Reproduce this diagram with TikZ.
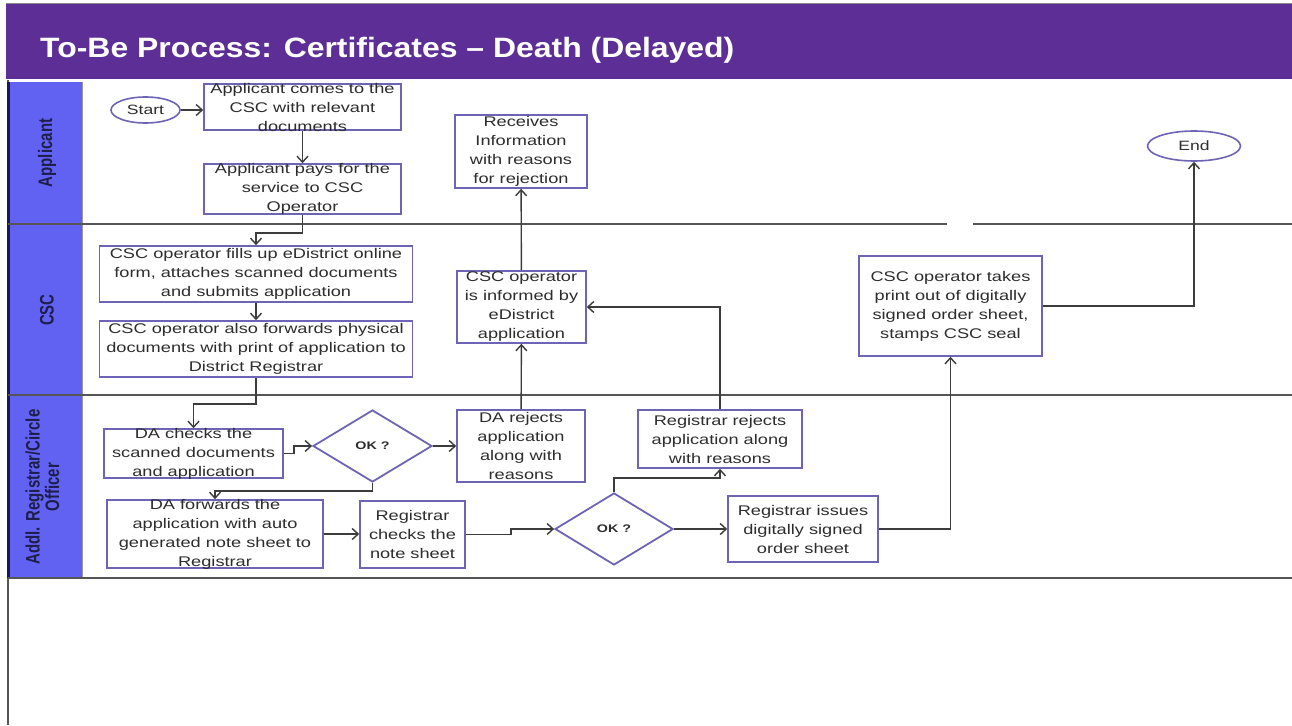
\documentclass[tikz,border=0pt]{standalone}
\usepackage{fontspec}
\setmainfont{Liberation Sans}[FakeStretch=1.3]
\newfontfamily\lanefont{Liberation Sans}
\newfontfamily\titlefont{Liberation Sans}[FakeStretch=1.14]
\usetikzlibrary{shapes.geometric,arrows.meta,calc}

\definecolor{headpurple}{RGB}{92,46,150}
\definecolor{laneblue}{RGB}{98,98,242}
\definecolor{lanenavy}{RGB}{25,25,90}
\definecolor{lanetext}{RGB}{30,30,75}
\definecolor{boxline}{RGB}{110,100,182}
\definecolor{flowline}{RGB}{60,60,60}
\definecolor{sepline}{RGB}{85,85,85}
\definecolor{bodytext}{RGB}{45,45,45}

\tikzset{
  box/.style={draw=boxline, line width=1.6pt, fill=white, inner sep=0pt},
  boxtext/.style={font=\fontsize{14}{19}\selectfont, text=bodytext, align=center, inner sep=0pt},
  decision/.style={diamond, draw=boxline, line width=1.8pt, fill=white, inner sep=0pt,
    font=\fontsize{11}{13}\selectfont\bfseries, text=bodytext},
  terminal/.style={ellipse, draw=boxline, line width=1.6pt, fill=white, inner sep=0pt,
    font=\fontsize{13.5}{16}\selectfont, text=bodytext},
  flow/.style={draw=flowline, line width=1.4pt, -{Straight Barb[length=6pt,width=11pt]}},
  lanesep/.style={draw=sepline, line width=1.8pt},
  lanelabel/.style={rotate=90, text=lanetext, align=center, inner sep=0pt,
    font=\lanefont\fontsize{15}{14}\selectfont\bfseries}
}

\begin{document}
\begin{tikzpicture}[x=1pt,y=-1pt]
\useasboundingbox (0,0) rectangle (1292,725);
\fill[white] (0,0) rectangle (1292,725);

% title band
\fill[headpurple] (6,4) rectangle (1292,79);
\draw[sepline!70, line width=1pt] (6,4) -- (1292,4);
\node[anchor=base west, text=white, inner sep=0pt,
      font=\titlefont\fontsize{28}{32}\selectfont\bfseries] (title) at (40,57)
  {To-Be Process: Certificates – Death (Delayed)};

% lane header column and frame
\draw[sepline, line width=1.5pt] (8,80) -- (8,725);
\fill[laneblue] (8,82) rectangle (82,578);
\draw[lanenavy, line width=2.5pt] (8.5,82) -- (8.5,578);
\draw[sepline!60, line width=0.8pt] (82,82) -- (82,578);

% lane separators
\draw[lanesep] (8,224) -- (947,224);
\draw[lanesep] (973,224) -- (1292,224);
\draw[lanesep] (8,395) -- (1292,395);
\draw[lanesep] (8,578) -- (1292,578);

% lane names
\node[lanelabel] (laneA) at (47,153) {\scalebox{1}[1.3]{Applicant}};
\node[lanelabel] (laneC) at (47,310) {\scalebox{1}[1.3]{CSC}};
\node[lanelabel] (laneR) at (45,487)
  {\scalebox{1}[1.3]{\begin{tabular}{@{}c@{}}Addl. Registrar/Circle\\Officer\end{tabular}}};

% terminals
\node[terminal, minimum width=69pt, minimum height=26pt] (start) at (145.5,110) {Start};
\node[terminal, minimum width=93pt, minimum height=30pt] (endn) at (1194,146) {End};

% applicant lane
\node[box, minimum width=197pt, minimum height=46pt] (a1) at (302.5,107) {};
\node[boxtext] (a1t) at (a1) {Applicant comes to the\\CSC with relevant\\documents};
\node[box, minimum width=197pt, minimum height=50pt] (a2) at (302.5,189) {};
\node[boxtext] (a2t) at (a2) {Applicant pays for the\\service to CSC\\Operator};
\node[box, minimum width=132pt, minimum height=73pt] (recv) at (521,151.5) {};
\node[boxtext] (recvt) at (recv) {Receives\\Information\\with reasons\\for rejection};

% CSC lane
\node[box, minimum width=313pt, minimum height=56pt] (c1) at (256,274) {};
\node[boxtext] (c1t) at (c1) {CSC operator fills up eDistrict online\\form, attaches scanned documents\\and submits application};
\node[box, minimum width=313pt, minimum height=56pt] (c2) at (256,349) {};
\node[boxtext] (c2t) at (c2) {CSC operator also forwards physical\\documents with print of application to\\District Registrar};
\node[box, minimum width=129pt, minimum height=72pt] (inf) at (521.5,307) {};
\node[boxtext] (inft) at (inf) {CSC operator\\is informed by\\eDistrict\\application};
\node[box, minimum width=183pt, minimum height=100pt] (cscp) at (950.5,306) {};
\node[boxtext] (cscpt) at (cscp) {CSC operator takes\\print out of digitally\\signed order sheet,\\stamps CSC seal};

% registrar lane
\node[box, minimum width=179pt, minimum height=49pt] (d1) at (193.5,453.5) {};
\node[boxtext] (d1t) at (d1) {DA checks the\\scanned documents\\and application};
\node[decision, minimum width=119pt, minimum height=72pt] (dia1) at (372.5,446) {OK ?};
\node[box, minimum width=128pt, minimum height=72pt] (darej) at (521,446) {};
\node[boxtext] (darejt) at (darej) {DA rejects\\application\\along with\\reasons};
\node[box, minimum width=216pt, minimum height=68pt] (d2) at (215,534) {};
\node[boxtext] (d2t) at (d2) {DA forwards the\\application with auto\\generated note sheet to\\Registrar};
\node[box, minimum width=105pt, minimum height=67pt] (r1) at (412.5,534.5) {};
\node[boxtext] (r1t) at (r1) {Registrar\\checks the\\note sheet};
\node[decision, minimum width=118pt, minimum height=72pt] (dia2) at (614,529) {OK ?};
\node[box, minimum width=164pt, minimum height=58pt] (rrej) at (720,439) {};
\node[boxtext] (rrejt) at (rrej) {Registrar rejects\\application along\\with reasons};
\node[box, minimum width=150pt, minimum height=66pt] (riss) at (803,529) {};
\node[boxtext] (risst) at (riss) {Registrar issues\\digitally signed\\order sheet};

% connectors
\draw[flow] (start.east) -- (start.east -| a1.west);
\draw[flow] (a1) -- (a2);
\draw[flow] (a2.south) -- ++(0,18) -| (c1.north);
\draw[flow] (c1) -- (c2);
\draw[flow] (c2.south) -- ++(0,26) -| (d1.north);
\draw[flow] (d1.east) -- ++(10,0) |- (dia1.west);
\draw[flow] (dia1.east) -- (darej.west);
\draw[flow] (dia1.south) -- ++(0,8) -| (d2.north);
\draw[flow] (d2.east) -- (d2.east -| r1.west);
\draw[flow] (r1.east) -- ++(45,0) |- (dia2.west);
\draw[flow] (dia2.north) -- ++(0,-14) -| (rrej.south);
\draw[flow] (dia2.east) -- (riss.west);
\draw[flow] (riss.east) -| (cscp.south);
\draw[flow] (cscp.east) -| (endn.south);
\draw[flow] (darej) -- (inf);
\draw[flow] (rrej.north) |- (inf.east);
\draw[flow] (inf) -- (recv);
\end{tikzpicture}
\end{document}
